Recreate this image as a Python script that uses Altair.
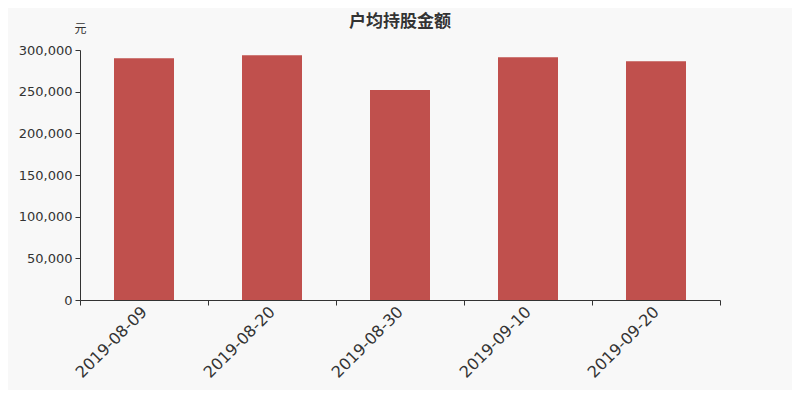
import altair as alt
import pandas as pd

dates = ["2019-08-09", "2019-08-20", "2019-08-30", "2019-09-10", "2019-09-20"]
values = [290000, 293600, 252000, 291200, 286400]

df = pd.DataFrame({"date": dates, "value": values})

chart = alt.Chart(df).mark_bar(color="#c0504d", width=60).encode(
    x=alt.X("date:N", sort=None, title=None,
            scale=alt.Scale(paddingInner=0, paddingOuter=0),
            axis=alt.Axis(labelAngle=-45, labelAlign="right", labelBaseline="middle",
                          labelFontSize=16, labelColor="#333", labelFont="DejaVu Sans",
                          tickBand="extent", tickColor="#333", domainColor="#333",
                          tickSize=5, labelPadding=4, labelOffset=0)),
    y=alt.Y("value:Q", title="元",
            scale=alt.Scale(domain=[0, 300000], nice=False),
            axis=alt.Axis(values=[0, 50000, 100000, 150000, 200000, 250000, 300000],
                          format=",.0f", grid=False, labelFontSize=13, labelColor="#333",
                          labelFont="DejaVu Sans", tickColor="#333", domainColor="#333",
                          tickSize=5, labelPadding=3,
                          titleAngle=0, titleX=0, titleY=-22, titleAlign="center",
                          titleBaseline="middle", titleFontSize=12, titleFontWeight="normal",
                          titleColor="#333", titleFont="Noto Sans CJK SC")),
).properties(
    width=640, height=250,
    title=alt.TitleParams("户均持股金额", font="Noto Sans CJK SC", fontSize=17,
                          fontWeight="bold", color="#333", anchor="middle", offset=-9),
    autosize=alt.AutoSizeParams(type="none"),
    padding={"left": 72, "top": 42, "right": 72, "bottom": 90},
    background="#f8f8f8",
).configure_view(stroke=None)

chart.save("out.html", embed_options={"renderer": "svg", "actions": False})
